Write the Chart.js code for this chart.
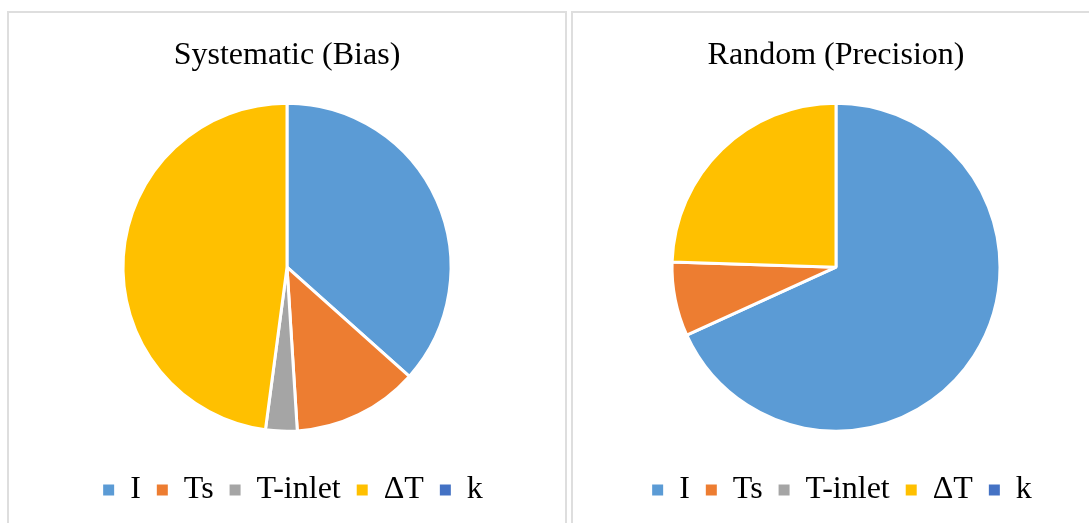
<!DOCTYPE html>
<html>
<head>
<meta charset="utf-8">
<script src="https://cdn.jsdelivr.net/npm/chart.js@4/dist/chart.umd.min.js"></script>
<style>
  body { margin: 0; width: 1089px; height: 523px; overflow: hidden; background: #fff; position: relative; }
  .panel { position: absolute; top: 11px; height: 540px; border: 2px solid #dedede; box-sizing: content-box; }
  #p1 { left: 7px; width: 556px; }
  #p2 { left: 571px; width: 526px; }
  canvas { display: block; }
</style>
</head>
<body>
<div class="panel" id="p1"><canvas id="biasChart" width="556" height="503"></canvas></div>
<div class="panel" id="p2"><canvas id="precChart" width="526" height="503"></canvas></div>
<script>
  var labels = ['I', 'Ts', 'T-inlet', '\u0394T', 'k'];
  var biasValues = [36.6, 12.4, 3.1, 47.9, 0];
  var precisionValues = [68.2, 7.3, 0, 24.5, 0];
  var colors = ['#5B9BD5', '#ED7D31', '#A5A5A5', '#FFC000', '#4472C4'];

  // nudge the legend a little to the right, like the original
  var legendShift = {
    id: 'legendShift',
    afterLayout: function(chart) {
      if (chart.legend) {
        chart.legend.left += 6;
        chart.legend.right += 6;
      }
    }
  };

  function makePie(id, title, values) {
    var ctx = document.getElementById(id);
    return new Chart(ctx, {
      type: 'pie',
      data: {
        labels: labels,
        datasets: [{
          data: values,
          backgroundColor: colors,
          borderColor: '#ffffff',
          borderWidth: 3,
          radius: 164
        }]
      },
      options: {
        responsive: false,
        animation: false,
        devicePixelRatio: 1,
        layout: { padding: 0 },
        plugins: {
          title: {
            display: true,
            text: title,
            color: '#000',
            font: { family: 'Liberation Serif', size: 32, weight: 'normal' },
            padding: { top: 23, bottom: 2 }
          },
          legend: {
            position: 'bottom',
            labels: {
              color: '#000',
              font: { family: 'Liberation Serif', size: 32 },
              boxWidth: 11,
              boxHeight: 11,
              padding: 16,
              generateLabels: function(chart) {
                var items = Chart.overrides.pie.plugins.legend.labels.generateLabels(chart);
                items.forEach(function(it) {
                  it.lineWidth = 0;
                  it.strokeStyle = it.fillStyle;
                });
                return items;
              }
            }
          },
          tooltip: { enabled: false }
        }
      },
      plugins: [legendShift]
    });
  }

  makePie('biasChart', 'Systematic (Bias)', biasValues);
  makePie('precChart', 'Random (Precision)', precisionValues);
</script>
</body>
</html>
